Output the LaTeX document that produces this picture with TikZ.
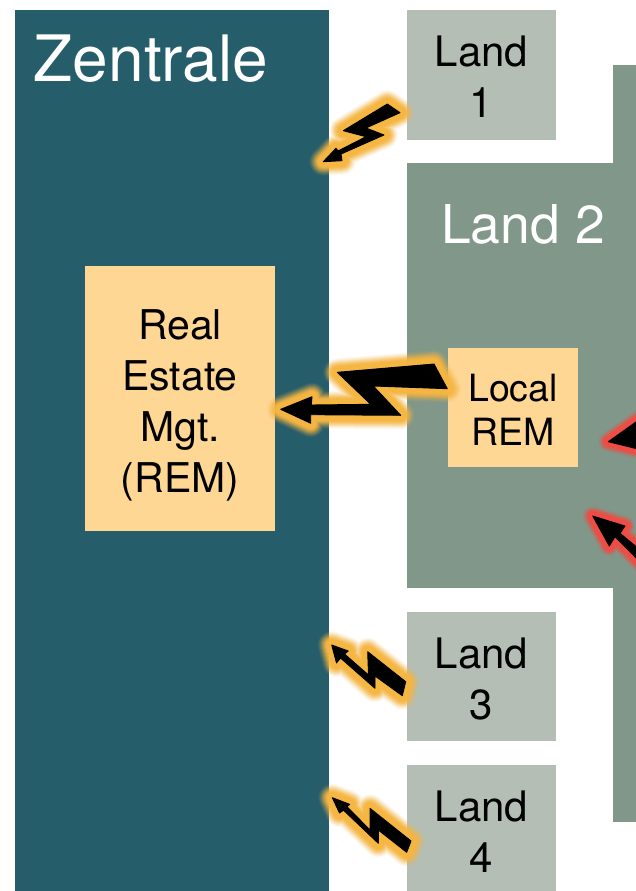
\documentclass[tikz,border=0pt]{standalone}
\usepackage{fontspec}
\setmainfont{TeX Gyre Heros}
\definecolor{zentral}{HTML}{265D6B}
\definecolor{landdark}{HTML}{80978A}
\definecolor{landlight}{HTML}{B5BEB5}
\definecolor{remfill}{HTML}{FFD794}
\definecolor{gloworange}{HTML}{F5B642}
\definecolor{glowred}{HTML}{F04C44}
\tikzset{
  block/.style={inner sep=0pt,outer sep=0pt},
  zbox/.style={block,fill=zentral},
  darkbox/.style={block,fill=landdark},
  lightbox/.style={block,fill=landlight},
  rembox/.style={block,fill=remfill},
  landtext/.style={block,align=center,text=black,font=\fontsize{42}{51}\selectfont},
  remtext/.style={block,align=center,text=black,font=\fontsize{41}{51}\selectfont},
  localtext/.style={block,align=center,text=black,font=\fontsize{37.5}{44}\selectfont},
  title/.style={block,text=white},
  boltshape/.style={fill=black,draw=black,line width=0.9pt,line join=round},
}
\newcommand{\glowpoly}[3]{%
  \foreach \w/\o in {#2}{
    \draw[draw=#1,line width=\w pt,opacity=\o,line join=round] #3 -- cycle;
  }
  \path[boltshape] #3 -- cycle;
}
\newcommand{\orangeglow}[1]{\glowpoly{gloworange}{28/.07,26/.1,24/.14,22/.18,20/.24,18/.3,16/.4,14/.5,12/.7,10/.9}{#1}}
\newcommand{\redglow}[1]{\glowpoly{glowred}{20/.1,18/.15,16/.25,14/.35,12/.5,10/.7,8/.9}{#1}}
\begin{document}
\begin{tikzpicture}[x=1pt,y=-1pt]
\useasboundingbox (0,0) rectangle (636,891);
\clip (0,0) rectangle (636,891);
\fill[white] (0,0) rectangle (636,891);
% Blocks
\node[zbox,minimum width=314pt,minimum height=881pt] (zentrale) at (172,450.5) {};
\node[darkbox,minimum width=229pt,minimum height=425pt] (land2) at (521.5,375.5) {};
\node[darkbox,minimum width=23pt,minimum height=757pt] (land2b) at (624.5,443.5) {};
\node[lightbox,minimum width=149pt,minimum height=130pt] (land1) at (481.5,75) {};
\node[lightbox,minimum width=149pt,minimum height=129pt] (land3) at (481.5,676.5) {};
\node[lightbox,minimum width=149pt,minimum height=126pt] (land4) at (481.5,828) {};
\node[rembox,minimum width=190pt,minimum height=265pt] (rem) at (180,398.5) {};
\node[rembox,minimum width=130pt,minimum height=119pt] (localrem) at (513,407.5) {};
% Texts
\node[landtext] (land1text) at ([yshift=-2pt]land1.center) {Land\\1};
\node[landtext] (land3text) at ([yshift=-2.5pt]land3.center) {Land\\3};
\node[landtext] (land4text) at ([yshift=-3.5pt]land4.center) {Land\\4};
\node[remtext] (remtext) at ([yshift=-6.5pt]rem.center) {Real\\Estate\\Mgt.\\(REM)};
\node[localtext] (localremtext) at ([yshift=-2.5pt]localrem.center) {Local\\REM};
\node[title,font=\fontsize{64}{64}\selectfont] (ztitle) at (151,59) {Zentrale};
\node[title,font=\fontsize{53.5}{54}\selectfont] (ltitle) at (523,224.5) {Land 2};
% Lightning arrows
\orangeglow{(343.3,130.7) -- (387.3,104) -- (400,112.7) -- (366,128) -- (384,135) -- (341,154) -- (342,160.7) -- (323.3,161.7) -- (336,148.3) -- (338,151) -- (366,136.7)}
\orangeglow{(337.3,372.3) -- (434,364) -- (447.3,388.7) -- (373.3,386) -- (400.7,415.3) -- (310.7,414.7) -- (310.7,423.3) -- (280.7,409.3) -- (312,396.7) -- (311.3,405) -- (370.7,404.3)}
\orangeglow{(331.7,645) -- (348.3,651) -- (344.5,654) -- (368.5,675) -- (367.7,651.7) -- (405.7,681.7) -- (402.3,695.7) -- (375,676) -- (375,688.3) -- (340.5,658) -- (336.5,663)}
\orangeglow{(332.3,797.7) -- (349.7,804.3) -- (347,806.7) -- (370,830) -- (370,808.3) -- (411,841) -- (406.7,852.3) -- (378.3,830) -- (378.3,843.3) -- (343.5,810.2) -- (339.5,813)}
\redglow{(608.3,441.7) -- (650,412) -- (650,452)}
\redglow{(592.7,516) -- (625,526) -- (620,533.3) -- (650,558) -- (650,572) -- (615,536.7) -- (609.3,546)}
\end{tikzpicture}
\end{document}
